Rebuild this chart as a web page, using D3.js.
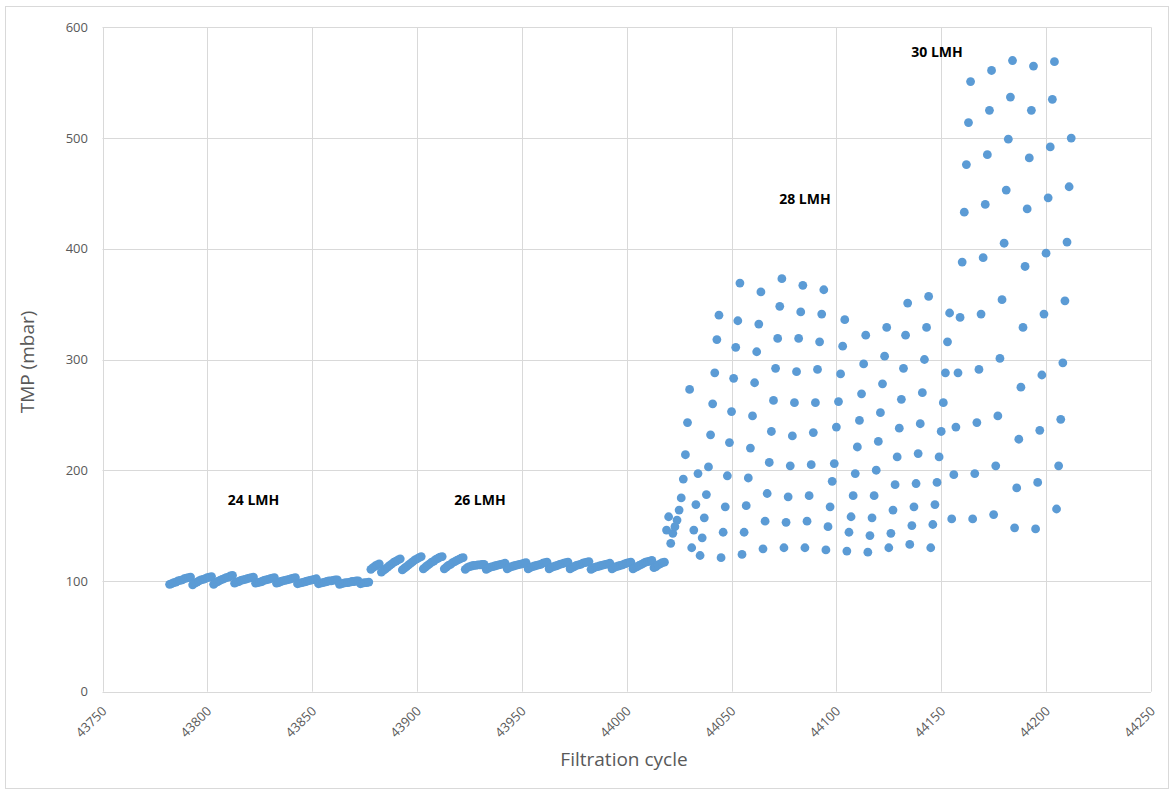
<!DOCTYPE html>
<html>
<head>
<meta charset="utf-8">
<script src="https://cdn.jsdelivr.net/npm/d3@7"></script>
<style>
  html, body { margin: 0; padding: 0; background: #fff; }
  svg { display: block; font-family: "Open Sans", "Liberation Sans", sans-serif; }
  .grid line { stroke: #d9d9d9; stroke-width: 1; }
  .tick-label { fill: #595959; font-size: 13px; }
  .axis-title { fill: #595959; font-size: 19px; }
  .flux-label { fill: #000; font-size: 14px; font-weight: bold; }
</style>
</head>
<body>
<svg id="chart" width="1176" height="791"></svg>
<script>
// --- DATA: TMP (mbar) per filtration cycle, one value per cycle from firstCycle ---
const fluxLabels = ["24 LMH", "26 LMH", "28 LMH", "30 LMH"];
const firstCycle = [43782, 43878, 44019, 44155];

const tmp24 = [
  97, 97.5, 98.5, 99, 100, 100.5, 101, 102, 102.5, 103, 103.5,
  96.5, 98, 99, 100, 101, 101.5, 102, 103, 103.5, 104,
  97, 98.5, 99.5, 100.5, 101.5, 102, 103, 103.5, 104.5, 105,
  98, 99, 99.5, 100.5, 101, 101.5, 102, 102.5, 103, 103.5,
  98, 98.5, 99, 99.5, 100.5, 101, 101.5, 102, 102.5, 103,
  98, 98.5, 99.5, 100, 100.5, 101, 101.5, 102, 102.5, 103,
  97.5, 98, 98.5, 99, 99.5, 100, 100.5, 101, 101.5, 102,
  97.5, 98, 98.5, 99, 99.5, 100, 100, 100.5, 101, 101,
  97, 97.5, 98, 98.5, 98.5, 99, 99.5, 99.5, 100, 100,
  97.5, 98, 98.5, 98.5, 99
];

const tmp26 = [
  110.5, 112, 113.5, 114.5, 115.5,
  108, 109.5, 111, 112.5, 114, 115.5, 117, 118, 119, 120,
  110, 111.5, 113, 114.5, 116, 117.5, 119, 120, 121, 122,
  111, 112.5, 114, 115.5, 117, 118, 119.5, 120.5, 121.5, 122,
  111, 112.5, 114, 115, 116.5, 117.5, 118.5, 119.5, 120.5, 121,
  110.5, 112, 113, 113.5, 114, 114, 114.5, 114.5, 115, 115,
  110.5, 111.5, 112.5, 113, 113.5, 114, 114.5, 115, 115.5, 116,
  111, 112, 113, 113.5, 114, 114.5, 115, 115.5, 116, 116.5,
  111, 112, 113, 113.5, 114, 114.5, 115, 116, 116.5, 117,
  111, 112, 113, 113.5, 114, 115, 115.5, 116, 116.5, 117,
  111, 112, 113, 114, 114.5, 115, 116, 116.5, 117, 117.5,
  110.5, 111.5, 112.5, 113, 113.5, 114, 114.5, 115, 115.5, 116,
  111, 112, 113, 113.5, 114, 114.5, 115.5, 116, 116.5, 117,
  111, 112, 113, 114, 115, 116, 117, 117.5, 118, 118.5,
  112, 113, 114.5, 115.5, 116.5, 117
];

const tmp28 = [
  146, 158,
  134, 143, 149, 155, 164, 175, 192, 214, 243, 273,
  130, 146, 169, 197,
  123, 139, 157, 178, 203, 232, 260, 288, 318, 340,
  121, 144, 167, 195, 225, 253, 283, 311, 335, 369,
  124, 144, 168, 193, 220, 249, 279, 307, 332, 361,
  129, 154, 179, 207, 235, 263, 292, 319, 348, 373,
  130, 153, 176, 204, 231, 261, 289, 319, 343, 367,
  130, 154, 177, 205, 234, 261, 291, 316, 341, 363,
  128, 149, 167, 190, 206, 239, 262, 287, 312, 336,
  127, 144, 158, 177, 197, 221, 245, 269, 296, 322,
  126, 141, 157, 177, 200, 226, 252, 278, 303, 329,
  130, 143, 164, 187, 212, 238, 264, 292, 322, 351,
  133, 150, 167, 188, 215, 242, 270, 300, 329, 357,
  130, 151, 169, 189, 212, 235, 261, 288, 316, 342
];

const tmp30 = [
  156, 196, 239, 288, 338, 388, 433, 476, 514, 551,
  156, 197, 243, 291, 341, 392, 440, 485, 525, 561,
  160, 204, 249, 301, 354, 405, 453, 499, 537, 570,
  148, 184, 228, 275, 329, 384, 436, 482, 525, 565,
  147, 189, 236, 286, 341, 396, 446, 492, 535, 569,
  165, 204, 246, 297, 353, 406, 456, 500
];

// annotation anchors (data coordinates)
const labelCycle = [43822, 43930, 44085, 44148];
const labelTmp = [173, 173, 445, 578];

const xTicks = [43750, 43800, 43850, 43900, 43950, 44000, 44050, 44100, 44150, 44200, 44250];
const yTicks = [0, 100, 200, 300, 400, 500, 600];

// --- BUILD POINTS ---
const series = [tmp24, tmp26, tmp28, tmp30];
const points = [];
series.forEach((vals, s) => {
    vals.forEach((v, i) => points.push({ cycle: firstCycle[s] + i, tmp: v }));
});

const svg = d3.select("#chart");

// chart frame
svg.append("rect")
    .attr("x", 5.5).attr("y", 6.5)
    .attr("width", 1163).attr("height", 782)
    .attr("fill", "#fff").attr("stroke", "#d9d9d9").attr("stroke-width", 1);

const x = d3.scaleLinear().domain([43750, 44250]).range([102.5, 1150.9]);
const y = d3.scaleLinear().domain([0, 600]).range([691.7, 27.3]);

// gridlines
const grid = svg.append("g").attr("class", "grid");
grid.selectAll(".vline").data(xTicks).enter().append("line")
    .attr("x1", d => Math.round(x(d)) + 0.5).attr("x2", d => Math.round(x(d)) + 0.5)
    .attr("y1", y(600)).attr("y2", y(0));
grid.selectAll(".hline").data(yTicks).enter().append("line")
    .attr("y1", d => Math.round(y(d)) + 0.5).attr("y2", d => Math.round(y(d)) + 0.5)
    .attr("x1", x(43750)).attr("x2", x(44250));

// y tick labels
svg.append("g").selectAll("text").data(yTicks).enter().append("text")
    .attr("class", "tick-label")
    .attr("x", 88).attr("y", d => y(d))
    .attr("dy", "0.35em")
    .attr("text-anchor", "end")
    .text(d => d);

// x tick labels (rotated)
svg.append("g").selectAll("text").data(xTicks).enter().append("text")
    .attr("class", "tick-label")
    .attr("text-anchor", "end")
    .attr("transform", d => `translate(${x(d) + 5}, 712) rotate(-45)`)
    .text(d => d);

// axis titles
svg.append("text").attr("class", "axis-title")
    .attr("text-anchor", "middle")
    .attr("transform", "translate(34, 362) rotate(-90)")
    .text("TMP (mbar)");

svg.append("text").attr("class", "axis-title")
    .attr("text-anchor", "middle")
    .attr("x", 624).attr("y", 766)
    .text("Filtration cycle");

// points
svg.append("g").selectAll("circle").data(points).enter().append("circle")
    .attr("cx", d => x(d.cycle))
    .attr("cy", d => y(d.tmp))
    .attr("r", 4.4)
    .attr("fill", "#5b9bd5");

// flux annotations
svg.append("g").selectAll("text").data(fluxLabels).enter().append("text")
    .attr("class", "flux-label")
    .attr("text-anchor", "middle")
    .attr("x", (d, i) => x(labelCycle[i]))
    .attr("y", (d, i) => y(labelTmp[i]))
    .attr("dy", "0.35em")
    .text(d => d);
</script>
</body>
</html>
